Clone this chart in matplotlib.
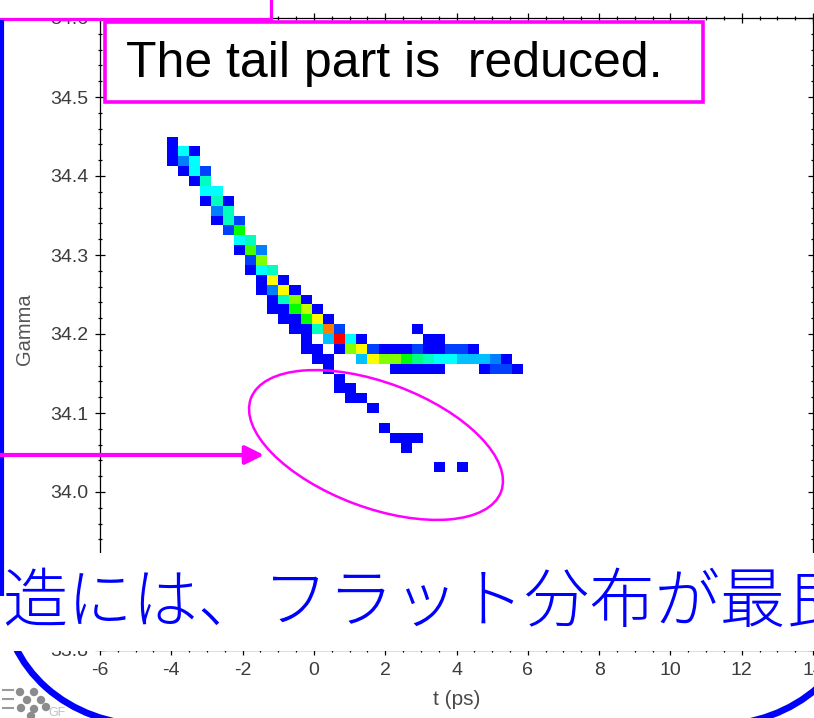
import numpy as np
import matplotlib.pyplot as plt
from matplotlib.colors import LinearSegmentedColormap
from matplotlib.patches import Rectangle, Ellipse, Arc, Circle
from matplotlib.ticker import MultipleLocator, FormatStrFormatter

plt.rcParams['font.family'] = ['Liberation Sans', 'DejaVu Sans']
plt.rcParams['axes.unicode_minus'] = False

# histogram bins (t in ps, Gamma)
t_edges = np.linspace(-6, 14, 65)
gamma_edges = np.linspace(33.8, 34.6, 65)
t_step = t_edges[1] - t_edges[0]

# one entry per Gamma bin: first occupied t bin and the counts from there on
row_gamma = [34.444, 34.431, 34.419, 34.406, 34.394, 34.381, 34.369, 34.356,
             34.344, 34.331, 34.319, 34.306, 34.294, 34.281, 34.269, 34.256,
             34.244, 34.231, 34.219, 34.206, 34.194, 34.181, 34.169, 34.156,
             34.144, 34.131, 34.119, 34.106, 34.081, 34.069, 34.056, 34.031]
row_t0 = [-3.97, -3.97, -3.97, -3.66, -3.34, -3.03, -3.03, -2.72,
          -2.72, -2.41, -2.09, -2.09, -1.78, -1.78, -1.47, -1.47,
          -1.16, -1.16, -0.84, -0.53, -0.22, -0.22, 0.09, 0.41,
          0.72, 0.72, 1.03, 1.66, 1.97, 2.28, 2.59, 3.53]
row_counts = [
    [1],
    [1, 5, 1],
    [1, 3, 5],
    [1, 5, 2],
    [1, 6],
    [5, 5],
    [1, 6, 1],
    [3, 6],
    [1, 6, 2],
    [2, 9],
    [5, 6],
    [1, 10, 3],
    [2, 11],
    [1, 5, 6],
    [1, 13, 1],
    [1, 3, 13, 1],
    [1, 6, 11, 1],
    [1, 1, 9, 12, 1],
    [1, 1, 9, 13, 1],
    [1, 1, 6, 15, 2, 0, 0, 0, 0, 0, 0, 1],
    [1, 0, 4, 17, 5, 1, 0, 0, 0, 0, 0, 1, 1],
    [1, 1, 0, 1, 11, 13, 2, 1, 1, 1, 2, 1, 1, 2, 2, 1],
    [1, 1, 0, 0, 4, 13, 11, 11, 9, 7, 6, 5, 5, 4, 4, 4, 3, 1],
    [1, 0, 0, 0, 0, 0, 1, 1, 1, 1, 1, 0, 0, 0, 1, 2, 2, 1],
    [1],
    [1, 1],
    [1, 1],
    [1],
    [1],
    [1, 1, 1],
    [1],
    [1, 0, 1],
]

t_vals, g_vals, w_vals = [], [], []
for g, t0, counts in zip(row_gamma, row_t0, row_counts):
    for i, c in enumerate(counts):
        if c > 0:
            t_vals.append(t0 + i * t_step)
            g_vals.append(g)
            w_vals.append(c)

hist, _, _ = np.histogram2d(t_vals, g_vals, bins=[t_edges, gamma_edges], weights=w_vals)
hist = np.ma.masked_equal(hist.T, 0)

cmap = LinearSegmentedColormap.from_list(
    'bcgyr', ['#0000ff', '#00ffff', '#00ff00', '#ffff00', '#ff0000'])

W, H = 814, 718
fig = plt.figure(figsize=(W / 100, H / 100), dpi=100)
ax = fig.add_axes([100 / W, 68 / H, 713 / W, 632 / H])
ax.pcolormesh(t_edges, gamma_edges, hist, cmap=cmap, vmin=1, vmax=17)

ax.set_xlim(-6, 14)
ax.set_ylim(33.8, 34.6)
ax.set_xticks(np.arange(-6, 15, 2))
ax.set_yticks(np.arange(33.8, 34.61, 0.1))
ax.xaxis.set_minor_locator(MultipleLocator(0.5))
ax.yaxis.set_minor_locator(MultipleLocator(0.02))
ax.yaxis.set_major_formatter(FormatStrFormatter('%.1f'))
ax.tick_params(which='both', direction='inout', top=True, right=True,
               labelsize=14, labelcolor='#3c3c3c', width=0.9)
ax.tick_params(which='major', length=7, pad=5)
ax.tick_params(which='minor', length=3.5)
for s in ax.spines.values():
    s.set_linewidth(0.9)

ax.set_xlabel('t (ps)', fontsize=15, color='#4a4a4a')
ax.set_ylabel('Gamma', fontsize=14.5, color='#555555')
ax.xaxis.set_label_coords(0.5, -0.063)
ax.yaxis.set_label_coords(-0.092, 0.508)

# slide overlay in pixel coordinates
ov = fig.add_axes([0, 0, 1, 1], zorder=5)
ov.set_xlim(0, W)
ov.set_ylim(H, 0)
ov.axis('off')
ov.patch.set_visible(False)

blue = '#0000ff'
mag = '#ff00ff'

# blue rounded frame
ov.plot([2, 2], [20, 596], color=blue, lw=3, solid_capstyle='butt')
ov.add_patch(Arc((148, 597), 288, 256, theta1=90, theta2=180, color=blue, lw=4.8))
ov.add_patch(Arc((716, 597), 288, 256, theta1=0, theta2=90, color=blue, lw=4.8))

# caption band
ov.add_patch(Rectangle((0, 553), W, 98, facecolor='white', edgecolor='none'))
ov.text(2, 604, '造には、フラット分布が最良', fontsize=47, color=blue,
        family=['Noto Sans CJK JP', 'DejaVu Sans'], fontweight='light',
        va='center', ha='left')

# corner box at the top left
ov.add_patch(Rectangle((-10, -10), 281, 29, facecolor='white', edgecolor=mag, lw=2.3))

# note box
ov.add_patch(Rectangle((105, 22), 598, 80, facecolor='white', edgecolor=mag, lw=2.6))
ov.text(126, 77, 'The tail part is  reduced.', fontsize=36, color='black',
        va='baseline', ha='left')

# highlight of the tail
ov.add_patch(Ellipse((376, 445), 267, 125, angle=20.5, facecolor='none',
                     edgecolor=mag, lw=1.8))
ov.annotate('', xy=(264, 455), xytext=(0, 455),
            arrowprops=dict(arrowstyle='-|>', color=mag, lw=3, mutation_scale=28,
                            shrinkA=0, shrinkB=0))

# small logo
for cx, cy in [(20, 692), (34, 692), (27, 700), (41, 700), (21, 708),
               (34, 709), (46, 707), (31, 716)]:
    ov.add_patch(Circle((cx, cy), 4.2, facecolor='#8c8c8c', edgecolor='none'))
for yy in [690, 699, 708]:
    ov.plot([3, 13], [yy, yy], color='#9a9a9a', lw=1.5)
ov.text(48, 713, 'GF', fontsize=9, color='#c0c0c0', va='center')

fig.savefig('out.png', dpi=100)
